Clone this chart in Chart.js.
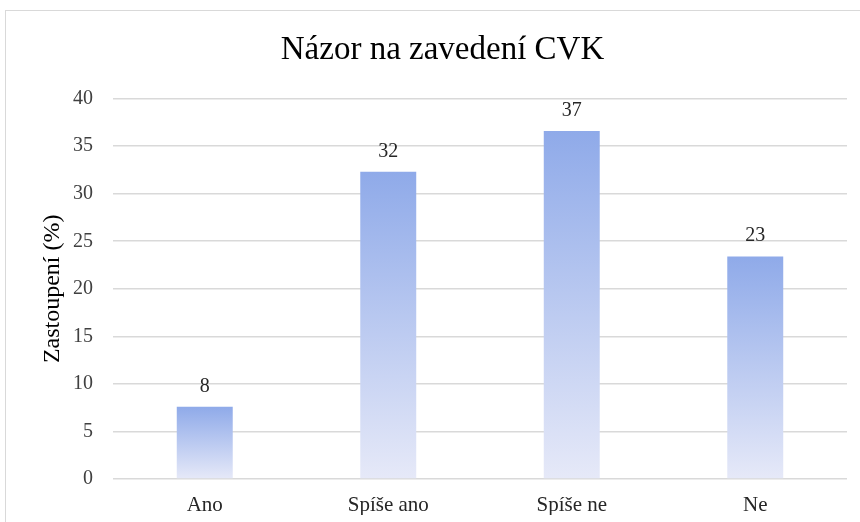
<!DOCTYPE html>
<html>
<head>
  <title>Názor na zavedení CVK</title>
  <style>
    body {
      margin: 0;
      overflow: hidden;
      background: #fff;
      font-family: 'Liberation Serif', serif;
    }
    #frame {
      position: absolute;
      left: 5px;
      top: 10px;
      width: 900px;
      height: 600px;
      border: 1px solid #d9d9d9;
    }
    #chartContainer {
      position: absolute;
      left: 0;
      top: 0;
    }
  </style>
</head>
<body>
  <div id="frame"></div>
  <canvas id="chartContainer" width="860" height="522"></canvas>

  <script src="https://cdn.jsdelivr.net/npm/chart.js@4/dist/chart.umd.min.js"></script>

  <script>
    const categories = ['Ano', 'Spíše ano', 'Spíše ne', 'Ne'];
    const shares = [7.6, 32.3, 36.6, 23.4];
    const shareLabels = ['8', '32', '37', '23'];
    const yTicks = [0, 5, 10, 15, 20, 25, 30, 35, 40];

    const serif = "'Liberation Serif', 'Times New Roman', serif";
    Chart.defaults.font.family = serif;

    // gradient per bar: stronger blue at the top, fading towards the axis
    function barGradient(context) {
      const chart = context.chart;
      if (!chart.chartArea) return '#a9bcec';
      const yScale = chart.scales.y;
      const top = yScale.getPixelForValue(context.raw);
      const base = yScale.getPixelForValue(0);
      const g = chart.ctx.createLinearGradient(0, top, 0, base);
      g.addColorStop(0, '#8faae9');
      g.addColorStop(1, '#e6e9f8');
      return g;
    }

    // value labels above the bars
    const valueLabels = {
      id: 'valueLabels',
      afterDatasetsDraw(chart) {
        const ctx = chart.ctx;
        const meta = chart.getDatasetMeta(0);
        ctx.save();
        ctx.font = '20px ' + serif;
        ctx.fillStyle = '#262626';
        ctx.textAlign = 'center';
        ctx.textBaseline = 'alphabetic';
        meta.data.forEach((bar, i) => {
          ctx.fillText(shareLabels[i], bar.x, bar.y - 15);
        });
        ctx.restore();
      }
    };

    const chartContainer = document.getElementById('chartContainer');

    new Chart(chartContainer.getContext('2d'), {
      type: 'bar',
      data: {
        labels: categories,
        datasets: [{
          label: 'Zastoupení (%)',
          data: shares,
          backgroundColor: barGradient,
          borderWidth: 0,
          categoryPercentage: 1,
          barPercentage: 0.305
        }]
      },
      options: {
        responsive: false,
        animation: false,
        layout: {
          padding: { left: 38, right: 13, top: 31, bottom: 7 }
        },
        plugins: {
          legend: { display: false },
          tooltip: { enabled: false },
          title: {
            display: true,
            text: 'Názor na zavedení CVK',
            color: '#000',
            font: { family: serif, size: 33, weight: 'normal' },
            padding: { top: 0, bottom: 28 }
          }
        },
        scales: {
          x: {
            afterFit: axis => {
              axis.height = 36;
            },
            grid: { display: false },
            border: { display: false },
            ticks: {
              color: '#262626',
              font: { family: serif, size: 21 },
              padding: 6
            }
          },
          y: {
            min: 0,
            max: 40,
            afterBuildTicks: axis => {
              axis.ticks = yTicks.map(v => ({ value: v }));
            },
            afterFit: axis => {
              axis.width = 75;
            },
            grid: {
              color: '#d9d9d9',
              lineWidth: 1.5,
              drawTicks: false
            },
            border: { display: false },
            ticks: {
              color: '#404040',
              font: { family: serif, size: 20 },
              padding: 20
            },
            title: {
              display: true,
              text: 'Zastoupení (%)',
              color: '#000',
              font: { family: serif, size: 24 },
              padding: 0
            }
          }
        }
      },
      plugins: [valueLabels]
    });
  </script>
</body>
</html>
